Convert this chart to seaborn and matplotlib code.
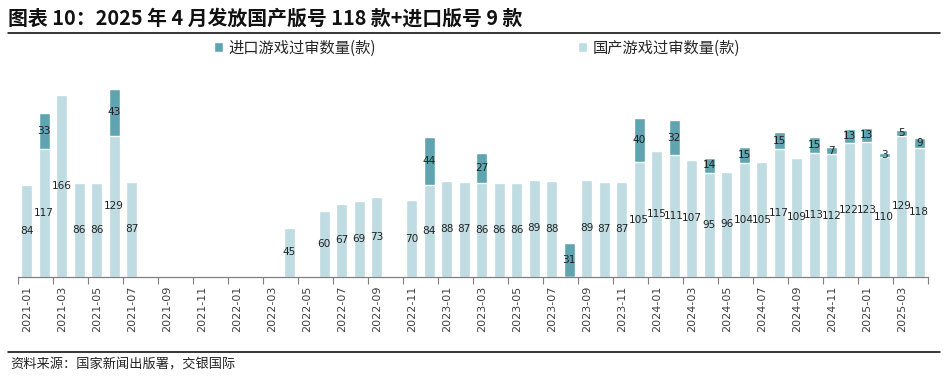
import matplotlib
matplotlib.use("Agg")
import matplotlib.pyplot as plt
from matplotlib.lines import Line2D
from matplotlib.patches import Patch
import seaborn as sns
import pandas as pd
import numpy as np

months = [f"{y}-{m:02d}" for y in range(2021, 2026) for m in range(1, 13)][:52]

domestic = [84, 117, 166, 86, 86, 129, 87, 0, 0, 0, 0, 0,
            0, 0, 0, 45, 0, 60, 67, 69, 73, 0, 70, 84,
            88, 87, 86, 86, 86, 89, 88, 0, 89, 87, 87, 105,
            115, 111, 107, 95, 96, 104, 105, 117, 109, 113, 112, 122,
            123, 110, 129, 118]
imported = [0, 33, 0, 0, 0, 43, 0, 0, 0, 0, 0, 0,
            0, 0, 0, 0, 0, 0, 0, 0, 0, 0, 0, 44,
            0, 0, 27, 0, 0, 0, 0, 31, 0, 0, 0, 40,
            0, 32, 0, 14, 0, 15, 0, 15, 0, 15, 7, 13,
            13, 3, 5, 9]

title = "图表 10：2025 年 4 月发放国产版号 118 款+进口版号 9 款"
legend_imp = "进口游戏过审数量(款)"
legend_dom = "国产游戏过审数量(款)"
source = "资料来源：国家新闻出版署，交银国际"

C_IMP = "#5FA4B0"
C_DOM = "#BEDCE1"

sns.set_theme(style="white")
plt.rcParams['font.family'] = ['DejaVu Sans', 'Noto Sans CJK SC']
cjk = ['Noto Sans CJK SC', 'DejaVu Sans']

df = pd.DataFrame({"month": months, "domestic": domestic, "imported": imported})
df["total"] = df["domestic"] + df["imported"]

fig = plt.figure(figsize=(9.48, 3.8), dpi=100)
ax = fig.add_axes([18/948, 103/380, 910/948, 219/380])

sns.barplot(data=df, x="month", y="total", color=C_IMP, width=0.61,
            saturation=1, ax=ax, order=months)
sns.barplot(data=df, x="month", y="domestic", color=C_DOM, width=0.61,
            saturation=1, ax=ax, order=months)

ax.set_xlim(-0.5, len(months) - 0.5)
ax.set_ylim(0, 200)
ax.set_xlabel("")
ax.set_ylabel("")
ax.set_yticks([])

for i, (d, m) in enumerate(zip(domestic, imported)):
    if d > 0:
        ax.text(i, d / 2, str(d), ha="center", va="center", fontsize=7.6, color="#222222")
    if m > 0:
        ax.text(i, d + m / 2, str(m), ha="center", va="center", fontsize=7.6, color="#222222")

idx = np.arange(0, len(months), 2)
ax.set_xticks(idx)
ax.set_xticklabels([months[i] for i in idx], rotation=90, fontsize=8, color="#404040")
ax.set_xticks(np.arange(-0.5, len(months), 2), minor=True)
ax.tick_params(axis="x", which="major", length=0, pad=6)
ax.tick_params(axis="x", which="minor", length=5, width=0.8, color="#808080", bottom=True)

for s in ["top", "right", "left"]:
    ax.spines[s].set_visible(False)
ax.spines["bottom"].set_color("#808080")
ax.spines["bottom"].set_linewidth(0.9)

handles = [Patch(facecolor=C_IMP, label=legend_imp), Patch(facecolor=C_DOM, label=legend_dom)]
fig.legend(handles=handles, loc="center", bbox_to_anchor=(477/948, 1 - 48/380), ncol=2,
           frameon=False, prop={'family': cjk, 'size': 11}, handlelength=0.6, handleheight=0.6,
           handletextpad=0.35, columnspacing=13.2)

fig.text(8/948, 1 - 18/380, title, fontsize=14.3, fontweight="bold", family=cjk,
         ha="left", va="center", color="#111111")
fig.add_artist(Line2D([8/948, 940/948], [1 - 33/380, 1 - 33/380], color="black", lw=1.1))
fig.add_artist(Line2D([8/948, 940/948], [1 - 352/380, 1 - 352/380], color="black", lw=1.1))
fig.text(10/948, 1 - 365/380, source, fontsize=9.5, family=cjk, style="italic",
         ha="left", va="center", color="#222222")

fig.savefig("out.png", dpi=100)
